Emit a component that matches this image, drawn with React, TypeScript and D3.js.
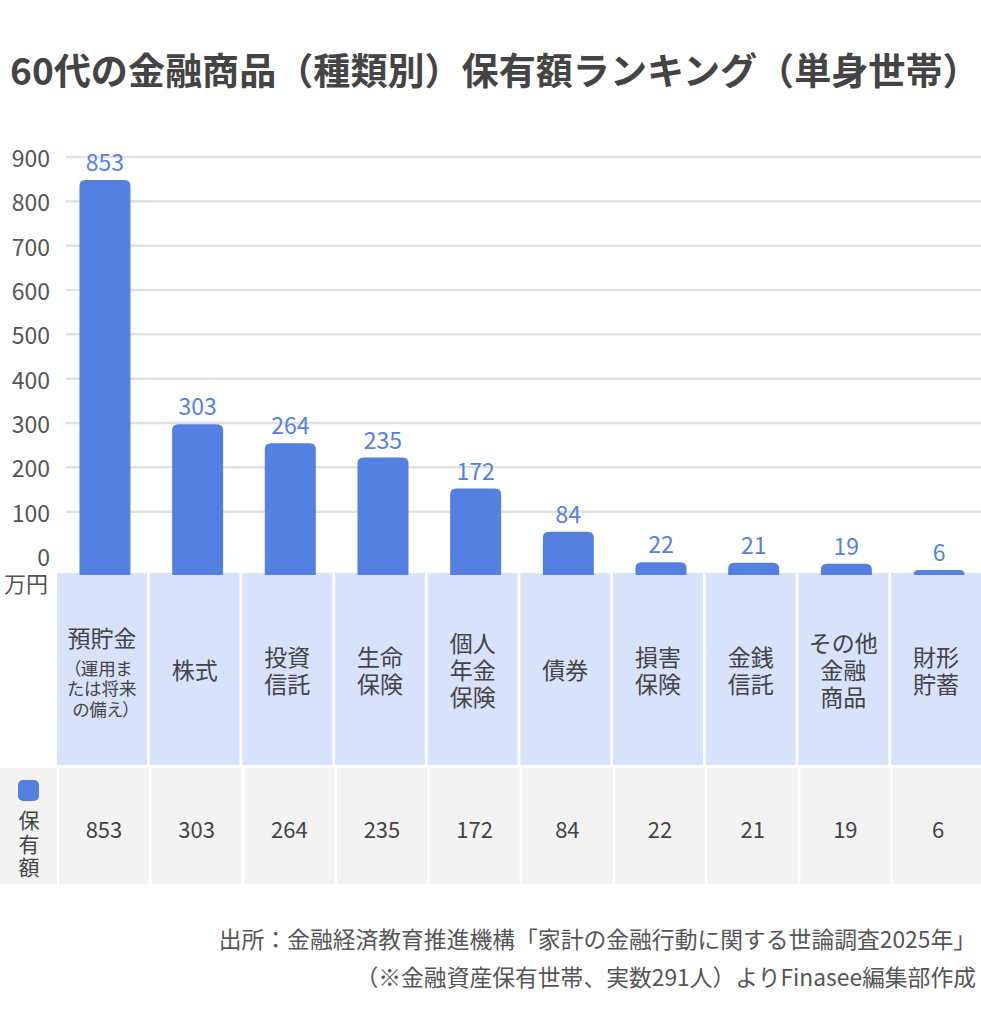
import * as d3 from 'd3';

const categories = ['預貯金', '株式', '投資信託', '生命保険', '個人年金保険', '債券', '損害保険', '金銭信託', 'その他金融商品', '財形貯蓄'];
const values = [853, 303, 264, 235, 172, 84, 22, 21, 19, 6];
const labelLines = [
  ['預貯金'],
  ['株式'],
  ['投資', '信託'],
  ['生命', '保険'],
  ['個人', '年金', '保険'],
  ['債券'],
  ['損害', '保険'],
  ['金銭', '信託'],
  ['その他', '金融', '商品'],
  ['財形', '貯蓄'],
];
const noteLines = ['（運用ま', 'たは将来', 'の備え）'];
const yTicks = [0, 100, 200, 300, 400, 500, 600, 700, 800, 900];
const seriesName = ['保', '有', '額'];
const title = '60代の金融商品（種類別）保有額ランキング（単身世帯）';
const sources = [
  '出所：金融経済教育推進機構「家計の金融行動に関する世論調査2025年」',
  '（※金融資産保有世帯、実数291人）よりFinasee編集部作成',
];

const FONT = '"Noto Sans CJK JP", "Noto Sans", sans-serif';
const BLUE = '#5480e1';
const TEXT = '#444444';
const palt = { fontFeatureSettings: '"palt"' };

export default function App() {
  const width = 981;
  const height = 1029;
  const baseY = 573;
  const catBottom = 765;
  const rowTop = 768;
  const rowBottom = 884;

  const x = d3.scaleBand<string>().domain(categories).range([57, 981]).paddingInner(0.03);
  const bw = x.bandwidth();
  // bar scale (top bar is clipped at the plot top)
  const yBar = d3.scaleLinear().domain([0, 800]).range([baseY, 180]).clamp(true);
  // axis / grid scale
  const yGrid = d3.scaleLinear().domain([0, 900]).range([556, 157]);

  const barW = 51;

  function barPath(x0: number, y0: number, w: number, h: number) {
    const r = Math.min(6, h, w / 2);
    return `M${x0},${y0 + h}V${y0 + r}Q${x0},${y0} ${x0 + r},${y0}H${x0 + w - r}Q${x0 + w},${y0} ${x0 + w},${y0 + r}V${y0 + h}Z`;
  }

  const grid = [];
  const tickLabels = [];
  for (let i = 0; i < yTicks.length; i++) {
    const t = yTicks[i];
    const yy = yGrid(t);
    if (t > 0) {
      grid.push(<line key={`g${i}`} x1={66} x2={981} y1={yy} y2={yy} stroke='#e2e2e2' strokeWidth={2.5} />);
    }
    tickLabels.push(
      <text key={`t${i}`} x={50} y={yy} textAnchor='end' dominantBaseline='central' fontSize={23} fill='#555'>
        {t}
      </text>
    );
  }

  const bars = [];
  const valueLabels = [];
  const catCells = [];
  const rowCells = [];
  for (let i = 0; i < categories.length; i++) {
    const c = categories[i];
    const v = values[i];
    const cx = (x(c) as number) + bw / 2;
    const top = yBar(v);
    bars.push(<path key={`b${i}`} d={barPath(cx + 3 - barW / 2, top, barW, baseY + 2 - top)} fill={BLUE} />);
    valueLabels.push(
      <text key={`v${i}`} x={cx + 3} y={top - 9} textAnchor='middle' fontSize={23} fill={BLUE}>
        {v}
      </text>
    );

    const mid = (baseY + catBottom) / 2;
    const lines = labelLines[i];
    const texts = [];
    if (i === 0) {
      texts.push(
        <text key='m' x={cx} y={mid - 32} textAnchor='middle' dominantBaseline='central' fontSize={23} fill={TEXT}>
          {lines[0]}
        </text>
      );
      noteLines.forEach((n, j) => {
        texts.push(
          <text
            key={`n${j}`}
            x={cx}
            y={mid - 2 + j * 20.7}
            textAnchor='middle'
            dominantBaseline='central'
            fontSize={17.5}
            fill={TEXT}
            style={palt}
          >
            {n}
          </text>
        );
      });
    } else {
      const lh = 27;
      lines.forEach((l, j) => {
        texts.push(
          <text
            key={`l${j}`}
            x={cx}
            y={mid + (j - (lines.length - 1) / 2) * lh}
            textAnchor='middle'
            dominantBaseline='central'
            fontSize={23}
            fill={TEXT}
          >
            {l}
          </text>
        );
      });
    }
    catCells.push(
      <g key={`c${i}`}>
        <rect x={x(c)} y={baseY} width={bw} height={catBottom - baseY} fill='#d7e2fd' />
        {texts}
      </g>
    );

    rowCells.push(
      <g key={`r${i}`}>
        <rect x={(x(c) as number) + 2} y={rowTop} width={bw} height={rowBottom - rowTop} fill='#f3f3f3' />
        <text x={cx + 2} y={(rowTop + rowBottom) / 2 + 2} textAnchor='middle' dominantBaseline='central' fontSize={22} fill={TEXT}>
          {v}
        </text>
      </g>
    );
  }

  return (
    <svg width={width} height={height} style={{ position: 'absolute', left: 0, top: 0, fontFamily: FONT }}>
      <rect width={width} height={height} fill='#fff' />
      <text x={10} y={69} dominantBaseline='central' fontSize={37.1} fontWeight='bold' fill={TEXT}>
        {title}
      </text>
      <g>{grid}</g>
      <g>{tickLabels}</g>
      <text x={48} y={582} textAnchor='end' dominantBaseline='central' fontSize={22} fill='#555'>
        万円
      </text>
      <g>{catCells}</g>
      <g>{bars}</g>
      <g>{valueLabels}</g>
      <rect x={0} y={rowTop} width={57} height={rowBottom - rowTop} fill='#f3f3f3' />
      <rect x={18} y={780} width={21} height={21} rx={5} fill={BLUE} />
      {seriesName.map((s, j) => (
        <text key={`s${j}`} x={29} y={819 + j * 23.5} textAnchor='middle' dominantBaseline='central' fontSize={21} fill={TEXT}>
          {s}
        </text>
      ))}
      <g>{rowCells}</g>
      {sources.map((s, j) => (
        <text key={`f${j}`} x={976} y={938 + j * 38} textAnchor='end' dominantBaseline='central' fontSize={22.8} fill='#555'>
          {s}
        </text>
      ))}
    </svg>
  );
}
